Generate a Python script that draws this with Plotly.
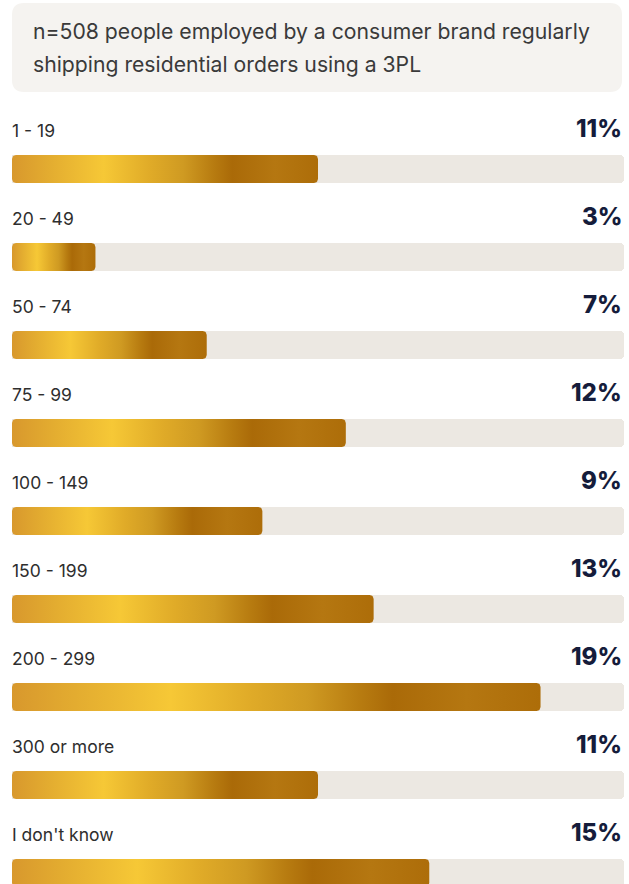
import numpy as np
import plotly.graph_objects as go

# Survey data: company size bands and the share of respondents in each
categories = ["1 - 19", "20 - 49", "50 - 74", "75 - 99", "100 - 149",
              "150 - 199", "200 - 299", "300 or more", "I don't know"]
shares = [11, 3, 7, 12, 9, 13, 19, 11, 15]
note_lines = ["n=508 people employed by a consumer brand regularly",
              "shipping residential orders using a 3PL"]

W, H = 629, 884
TRACK_L, TRACK_R = 12, 624          # pixel extent of the full track
AXIS_MAX = 22                        # value at the right end of the track
px_per_unit = (TRACK_R - TRACK_L) / AXIS_MAX

ROW0_LABEL_Y, ROW0_BAR_Y, ROW_STEP = 130, 169, 88
BAR_H = 28
RADIUS = 4

gold = [[0.0, "#d8982d"], [0.12, "#e3ac30"], [0.30, "#f6c836"],
        [0.45, "#e0ab28"], [0.56, "#cf9a22"], [0.66, "#b77b10"],
        [0.72, "#aa6a08"], [0.86, "#b57711"], [1.0, "#ad6d09"]]

fig = go.Figure()

bar_y = [ROW0_BAR_Y + ROW_STEP * i for i in range(len(categories))]

# Light background tracks
fig.add_trace(go.Bar(
    x=[AXIS_MAX] * len(categories), y=bar_y, orientation="h",
    width=BAR_H, marker=dict(color="#ece8e2", cornerradius=RADIUS,
                             line=dict(width=0)),
    hoverinfo="skip", showlegend=False,
))


def rounded_bar(value, yc):
    """Outline of a rounded horizontal bar from 0 to value, centred on yc."""
    rx = RADIUS / px_per_unit
    y0, y1 = yc - BAR_H / 2, yc + BAR_H / 2
    t = np.linspace(0, np.pi / 2, 8)
    xs, ys = [], []
    # top-right, bottom-right, bottom-left, top-left corners
    for cx, cy, a0 in [(value - rx, y0 + RADIUS, -np.pi / 2),
                       (value - rx, y1 - RADIUS, 0),
                       (rx, y1 - RADIUS, np.pi / 2),
                       (rx, y0 + RADIUS, np.pi)]:
        ang = a0 + t
        xs += list(cx + rx * np.cos(ang))
        ys += list(cy + RADIUS * np.sin(ang))
    xs.append(xs[0])
    ys.append(ys[0])
    return xs, ys


# Gold gradient fill for each share
for cat, val, yc in zip(categories, shares, bar_y):
    xs, ys = rounded_bar(val, yc)
    fig.add_trace(go.Scatter(
        x=xs, y=ys, mode="lines", fill="toself",
        line=dict(width=0, color="rgba(0,0,0,0)"),
        fillgradient=dict(type="horizontal", colorscale=gold,
                          start=0, stop=val),
        name=cat, hoverinfo="skip", showlegend=False,
    ))

annotations = []
for i, (cat, val) in enumerate(zip(categories, shares)):
    ly = ROW0_LABEL_Y + ROW_STEP * i
    annotations.append(dict(
        x=10 / W, xref="paper", y=ly, yref="y", text=cat,
        xanchor="left", yanchor="middle", showarrow=False,
        font=dict(family="Inter", size=17.5, color="#2e2e2e"),
    ))
    annotations.append(dict(
        x=624 / W, xref="paper", y=ly - 2, yref="y", text=f"{val}%",
        xanchor="right", yanchor="middle", showarrow=False,
        font=dict(family="Inter", size=24, color="#151c3b", weight=800),
    ))

for j, line in enumerate(note_lines):
    annotations.append(dict(
        x=31 / W, xref="paper", y=31 + 33 * j, yref="y", text=line,
        xanchor="left", yanchor="middle", showarrow=False,
        font=dict(family="Inter", size=21.2, color="#3a3a3a"),
    ))

# Rounded header panel
bx0, bx1, by0, by1, br = 12, 622, 3, 92, 12
sx = lambda p: p / W
header_path = (
    f"M {sx(bx0 + br)},{by0} L {sx(bx1 - br)},{by0} "
    f"Q {sx(bx1)},{by0} {sx(bx1)},{by0 + br} L {sx(bx1)},{by1 - br} "
    f"Q {sx(bx1)},{by1} {sx(bx1 - br)},{by1} L {sx(bx0 + br)},{by1} "
    f"Q {sx(bx0)},{by1} {sx(bx0)},{by1 - br} L {sx(bx0)},{by0 + br} "
    f"Q {sx(bx0)},{by0} {sx(bx0 + br)},{by0} Z"
)

fig.update_layout(
    width=W, height=H,
    margin=dict(l=0, r=0, t=0, b=0),
    paper_bgcolor="white", plot_bgcolor="white",
    xaxis=dict(range=[-TRACK_L / px_per_unit, (W - TRACK_L) / px_per_unit],
               visible=False, fixedrange=True),
    yaxis=dict(range=[H, 0], visible=False, fixedrange=True),
    shapes=[dict(type="path", path=header_path, xref="paper", yref="y",
                 fillcolor="#f5f3f0", line=dict(width=0), layer="below")],
    annotations=annotations,
    bargap=0,
)

fig.write_html("out.html", config={"displayModeBar": False})
